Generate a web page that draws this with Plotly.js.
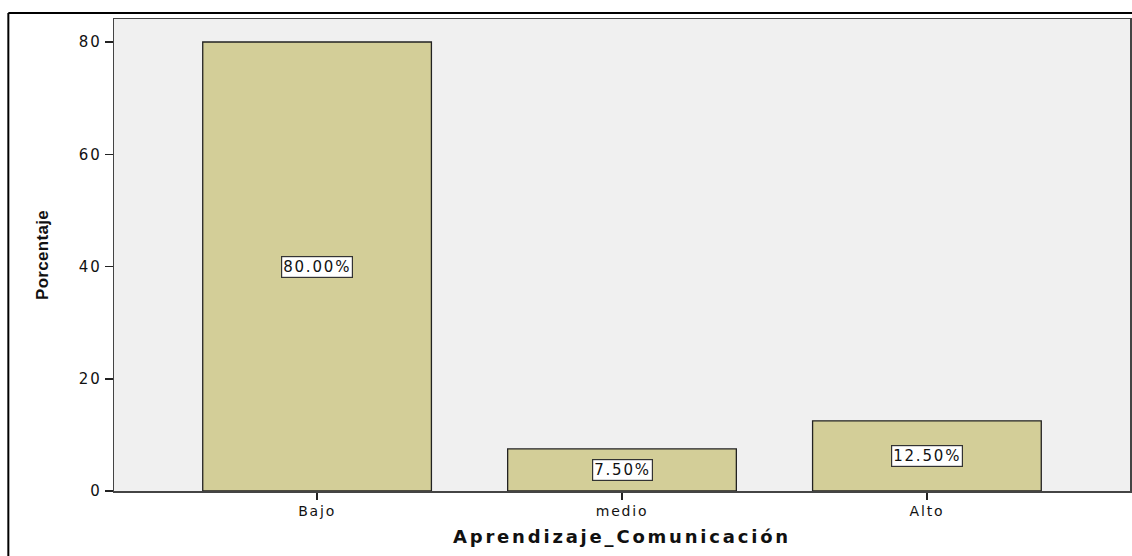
<!DOCTYPE html>
<html>
<head>
<meta charset="utf-8">
<script src="https://cdn.plot.ly/plotly-3.0.1.min.js"></script>
<style>
  html, body { margin: 0; padding: 0; background: #fff; }
  #chart { width: 1132px; height: 556px; }
  /* the original SPSS export uses a wide, stretched sans font */
  svg text { letter-spacing: 1.8px; }
  svg .g-xtitle text { letter-spacing: 2.8px; }
  svg .g-ytitle text { letter-spacing: 0.3px; }
</style>
</head>
<body>
<div id="chart"></div>
<script>
// categories and percentages
const categories = ['Bajo', 'medio', 'Alto'];
const percentages = [80.0, 7.5, 12.5];
const yTicks = [0, 20, 40, 60, 80];

const barColor = 'rgb(211,206,152)';
const wideFont = 'DejaVu Sans, Verdana, sans-serif';

const trace = {
    x: categories,
    y: percentages,
    type: 'bar',
    width: 0.75,
    marker: {
        color: barColor,
        line: { color: '#222', width: 1.3 }
    },
    hoverinfo: 'none'
};

// value labels sit at half the bar height, in white boxes
const labels = categories.map((c, i) => ({
    x: c,
    y: percentages[i] / 2,
    xref: 'x',
    yref: 'y',
    text: percentages[i].toFixed(2) + '%',
    showarrow: false,
    bgcolor: '#fff',
    bordercolor: '#333',
    borderwidth: 1.2,
    borderpad: 1,
    font: { family: wideFont, size: 15, color: '#111' }
}));

const layout = {
    width: 1132,
    height: 556,
    margin: { l: 114, r: 2, t: 19, b: 65 },
    paper_bgcolor: '#fff',
    plot_bgcolor: '#f0f0f0',
    showlegend: false,
    font: { family: wideFont, color: '#111' },
    xaxis: {
        type: 'category',
        range: [-0.666, 2.666],
        showgrid: false,
        zeroline: false,
        showline: true,
        mirror: true,
        linecolor: '#444',
        linewidth: 1.5,
        ticks: 'outside',
        ticklen: 7,
        tickwidth: 1.5,
        tickcolor: '#222',
        tickfont: { size: 14, color: '#111' },
        title: {
            text: 'Aprendizaje_Comunicación',
            font: { size: 18, color: '#111', family: wideFont, weight: 'bold' },
            standoff: 12
        }
    },
    yaxis: {
        range: [0, 84.1],
        tickvals: yTicks,
        showgrid: false,
        zeroline: false,
        showline: true,
        mirror: true,
        linecolor: '#444',
        linewidth: 1.5,
        ticks: 'outside',
        ticklen: 8,
        tickwidth: 1.5,
        tickcolor: '#222',
        tickfont: { size: 15, color: '#111' },
        title: {
            text: 'Porcentaje',
            font: { size: 17, color: '#111', family: 'Liberation Sans Narrow, Liberation Sans, Arial, sans-serif', weight: 'bold' },
            standoff: 26
        }
    },
    annotations: labels,
    shapes: [
        // outer image frame (cropped on the right and bottom)
        { type: 'line', xref: 'paper', yref: 'paper', x0: -0.104, x1: 1.05, y0: 1.0127, y1: 1.0127,
          line: { color: '#000', width: 2 } },
        { type: 'line', xref: 'paper', yref: 'paper', x0: -0.104, x1: -0.104, y0: 1.0127, y1: -0.2,
          line: { color: '#000', width: 2 } }
    ]
};

Plotly.newPlot('chart', [trace], layout, { displayModeBar: false, staticPlot: true });
</script>
</body>
</html>
